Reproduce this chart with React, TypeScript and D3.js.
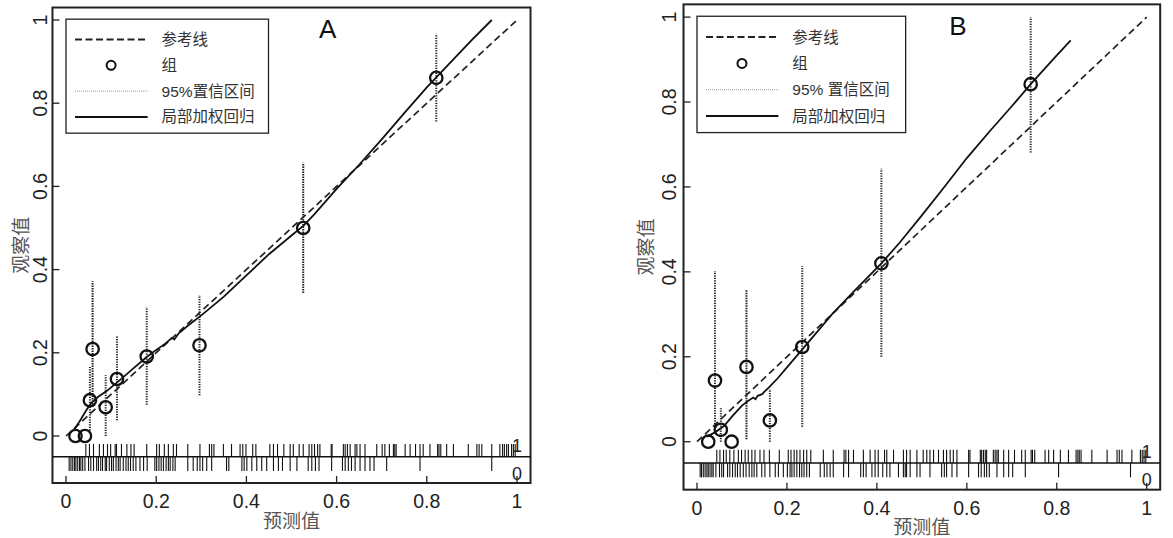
import React from "react";
import * as d3 from "d3";

// ---------- data ----------
const axisTicks = [0, 0.2, 0.4, 0.6, 0.8, 1];
const axisTickLabels = ["0", "0.2", "0.4", "0.6", "0.8", "1"];
const xTitle = "预测值";
const yTitle = "观察值";
const legendLabelsA = ["参考线", "组", "95%置信区间", "局部加权回归"];
const legendLabelsB = ["参考线", "组", "95% 置信区间", "局部加权回归"];

// Panel A groups
const groupPredA = [0.021, 0.042, 0.053, 0.059, 0.088, 0.113, 0.179, 0.296, 0.526, 0.821];
const groupObsA = [0, 0, 0.086, 0.209, 0.069, 0.137, 0.191, 0.218, 0.5, 0.861];
const ciLowA = [null, null, 0.013, 0.07, 0.0, 0.038, 0.075, 0.098, 0.344, 0.756];
const ciHighA = [null, null, 0.166, 0.372, 0.146, 0.24, 0.31, 0.339, 0.657, 0.967];

const loessXA = [0.016, 0.03, 0.045, 0.055, 0.07, 0.09, 0.12, 0.15, 0.179, 0.2, 0.22, 0.235, 0.24, 0.25, 0.27, 0.3, 0.35, 0.4, 0.45, 0.5, 0.526, 0.55, 0.6, 0.65, 0.7, 0.75, 0.8, 0.85, 0.9, 0.944];
const loessYA = [0.012, 0.035, 0.062, 0.078, 0.093, 0.108, 0.135, 0.163, 0.19, 0.207, 0.222, 0.236, 0.232, 0.247, 0.265, 0.29, 0.335, 0.386, 0.437, 0.482, 0.505, 0.532, 0.594, 0.652, 0.713, 0.776, 0.838, 0.895, 0.952, 1.0];

const rugEventsA = [0.044, 0.052, 0.061, 0.074, 0.083, 0.092, 0.099, 0.109, 0.112, 0.123, 0.135, 0.144, 0.151, 0.179, 0.201, 0.207, 0.218, 0.227, 0.238, 0.245, 0.27, 0.297, 0.318, 0.323, 0.328, 0.349, 0.367, 0.386, 0.392, 0.399, 0.414, 0.421, 0.452, 0.46, 0.469, 0.483, 0.497, 0.504, 0.517, 0.526, 0.539, 0.545, 0.551, 0.558, 0.563, 0.588, 0.59, 0.615, 0.619, 0.624, 0.63, 0.641, 0.645, 0.652, 0.663, 0.689, 0.701, 0.707, 0.717, 0.726, 0.729, 0.732, 0.752, 0.763, 0.775, 0.785, 0.792, 0.807, 0.824, 0.827, 0.831, 0.844, 0.859, 0.892, 0.911, 0.916, 0.922, 0.944, 0.962, 0.968, 0.972, 0.977, 0.981, 0.988, 0.992, 0.996];
const rugNonEventsA = [0.007, 0.011, 0.015, 0.019, 0.022, 0.026, 0.03, 0.033, 0.037, 0.042, 0.05, 0.055, 0.061, 0.068, 0.072, 0.077, 0.081, 0.087, 0.09, 0.096, 0.101, 0.105, 0.111, 0.116, 0.12, 0.127, 0.133, 0.138, 0.143, 0.149, 0.155, 0.164, 0.172, 0.18, 0.197, 0.201, 0.206, 0.211, 0.216, 0.222, 0.227, 0.231, 0.237, 0.242, 0.27, 0.282, 0.291, 0.297, 0.303, 0.312, 0.323, 0.356, 0.361, 0.39, 0.395, 0.401, 0.412, 0.423, 0.434, 0.445, 0.46, 0.471, 0.48, 0.497, 0.512, 0.537, 0.545, 0.553, 0.561, 0.589, 0.613, 0.619, 0.626, 0.633, 0.641, 0.652, 0.663, 0.674, 0.683, 0.711, 0.785, 0.944];

// Panel B groups
const groupPredB = [0.025, 0.04, 0.053, 0.077, 0.11, 0.162, 0.234, 0.41, 0.742];
const groupObsB = [0, 0.144, 0.028, 0, 0.176, 0.05, 0.223, 0.42, 0.842];
const ciLowB = [null, 0.03, 0.0, null, 0.006, 0.0, 0.035, 0.2, 0.681];
const ciHighB = [null, 0.402, 0.079, null, 0.358, 0.124, 0.414, 0.643, 1.0];

const loessXB = [0.022, 0.04, 0.06, 0.08, 0.1, 0.115, 0.125, 0.13, 0.135, 0.145, 0.15, 0.16, 0.18, 0.2, 0.238, 0.27, 0.3, 0.35, 0.41, 0.45, 0.5, 0.55, 0.6, 0.65, 0.7, 0.742, 0.8, 0.831];
const loessYB = [0.012, 0.022, 0.037, 0.062, 0.085, 0.097, 0.104, 0.1, 0.108, 0.112, 0.118, 0.128, 0.15, 0.175, 0.222, 0.262, 0.3, 0.355, 0.42, 0.468, 0.533, 0.6, 0.668, 0.73, 0.79, 0.842, 0.91, 0.945];

const rugEventsB = [0.044, 0.051, 0.059, 0.065, 0.073, 0.082, 0.092, 0.099, 0.107, 0.114, 0.122, 0.129, 0.14, 0.149, 0.161, 0.183, 0.203, 0.209, 0.216, 0.222, 0.229, 0.237, 0.244, 0.253, 0.281, 0.303, 0.327, 0.331, 0.337, 0.348, 0.37, 0.385, 0.396, 0.403, 0.417, 0.422, 0.437, 0.459, 0.466, 0.474, 0.489, 0.503, 0.511, 0.518, 0.526, 0.537, 0.548, 0.555, 0.563, 0.57, 0.578, 0.604, 0.607, 0.63, 0.633, 0.637, 0.641, 0.644, 0.659, 0.663, 0.667, 0.67, 0.682, 0.693, 0.706, 0.722, 0.73, 0.743, 0.746, 0.751, 0.774, 0.782, 0.793, 0.808, 0.826, 0.843, 0.847, 0.85, 0.854, 0.878, 0.912, 0.934, 0.939, 0.945, 0.967, 0.986, 0.99, 0.994, 0.998];
const rugNonEventsB = [0.007, 0.01, 0.014, 0.018, 0.022, 0.025, 0.029, 0.033, 0.036, 0.042, 0.05, 0.055, 0.059, 0.068, 0.073, 0.079, 0.085, 0.09, 0.096, 0.103, 0.109, 0.116, 0.122, 0.127, 0.133, 0.144, 0.151, 0.162, 0.174, 0.181, 0.192, 0.201, 0.207, 0.211, 0.216, 0.222, 0.228, 0.233, 0.238, 0.244, 0.25, 0.274, 0.283, 0.289, 0.296, 0.303, 0.326, 0.337, 0.364, 0.37, 0.376, 0.389, 0.396, 0.403, 0.413, 0.422, 0.429, 0.448, 0.459, 0.463, 0.466, 0.474, 0.489, 0.496, 0.518, 0.544, 0.55, 0.555, 0.567, 0.578, 0.604, 0.626, 0.632, 0.639, 0.644, 0.65, 0.667, 0.682, 0.693, 0.702, 0.73, 0.804, 0.964];

// ---------- layout ----------
const W = 1173;
const H = 538;
const FONT = "'Liberation Sans', Arial, 'Noto Sans CJK SC', sans-serif";
const XLIM = [-0.03, 1.03];
const YLIM = [-0.113, 1.03];

type PanelProps = {
  letter: string;
  x0: number; x1: number; y0: number; y1: number;
  yLabelOff: number; yTitleOff: number;
  legendRight: number;
  legendLabels: string[];
  pred: number[]; obs: number[]; lo: (number | null)[]; hi: (number | null)[];
  lx: number[]; ly: number[];
  rug1: number[]; rug0: number[];
};

function Panel(p: PanelProps) {
  const x = d3.scaleLinear().domain([0, 1]).range([p.x0, p.x1]);
  const y = d3.scaleLinear().domain([0, 1]).range([p.y0, p.y1]);
  const bx0 = x(XLIM[0]), bx1 = x(XLIM[1]);
  const by0 = y(YLIM[0]), by1 = y(YLIM[1]);
  const line = d3.line<[number, number]>().x(d => x(d[0])).y(d => y(d[1]));
  const loessPts: [number, number][] = p.lx.map((v, i) => [v, p.ly[i]]);
  const rugY = y(-0.05);
  const rugUp = y(-0.019);
  const rugDown = y(-0.084);
  const legTop = y(1.002), legBot = y(0.728);
  const legL = x(0.0), legR = x(p.legendRight);
  const rowY = [0.953, 0.891, 0.829, 0.767].map(v => y(v));
  const sampX0 = x(0.02), sampX1 = x(0.181), txtX = x(0.212), circX = x(0.1);
  const midY = (by0 + by1) / 2;
  return (
    <g fontFamily={FONT}>
      {/* box */}
      <rect x={bx0} y={by1} width={bx1 - bx0} height={by0 - by1} fill="white" stroke="#222" strokeWidth={2} />
      {/* ticks (inward) */}
      {axisTicks.map((t, i) => (
        <g key={"t" + i}>
          <line x1={x(t)} x2={x(t)} y1={by0} y2={by0 - 7} stroke="#222" strokeWidth={1.3} />
          <text x={x(t)} y={by0 + 25} textAnchor="middle" fontSize={19.5} fill="#222">{axisTickLabels[i]}</text>
          <line x1={bx0} x2={bx0 + 7} y1={y(t)} y2={y(t)} stroke="#222" strokeWidth={1.3} />
          <text transform={`translate(${bx0 - p.yLabelOff},${y(t)}) rotate(-90)`} textAnchor="middle" dominantBaseline="central" fontSize={19.5} fill="#222">{axisTickLabels[i]}</text>
        </g>
      ))}
      <text x={(bx0 + bx1) / 2} y={by0 + 38} textAnchor="middle" dominantBaseline="central" fontSize={19} fill="#555">{xTitle}</text>
      <text transform={`translate(${bx0 - p.yTitleOff},${midY}) rotate(-90)`} textAnchor="middle" dominantBaseline="central" fontSize={19} fill="#555">{yTitle}</text>
      {/* rug */}
      <line x1={bx0} x2={bx1} y1={rugY} y2={rugY} stroke="#111" strokeWidth={1.6} />
      {p.rug1.map((v, i) => (
        <line key={"r1" + i} x1={x(v)} x2={x(v)} y1={rugY} y2={rugUp} stroke="#111" strokeWidth={1.1} />
      ))}
      {p.rug0.map((v, i) => (
        <line key={"r0" + i} x1={x(v)} x2={x(v)} y1={rugY} y2={rugDown} stroke="#111" strokeWidth={1.1} />
      ))}
      <text x={x(1)} y={rugY - 5} textAnchor="middle" fontSize={18} fill="#222">1</text>
      <text x={x(1)} y={rugY + 23} textAnchor="middle" fontSize={18} fill="#222">0</text>
      {/* CI */}
      {p.pred.map((v, i) =>
        p.lo[i] == null ? null : (
          <line key={"ci" + i} x1={x(v)} x2={x(v)} y1={y(p.lo[i] as number)} y2={y(p.hi[i] as number)} stroke="#222" strokeWidth={2} strokeDasharray="1.3,1.2" />
        )
      )}
      {/* reference line */}
      <path d={line([[0, 0], [1, 1]]) || ""} fill="none" stroke="#222" strokeWidth={1.7} strokeDasharray="7,4" />
      {/* loess */}
      <path d={line(loessPts) || ""} fill="none" stroke="#111" strokeWidth={1.8} />
      {/* groups */}
      {p.pred.map((v, i) => (
        <circle key={"g" + i} cx={x(v)} cy={y(p.obs[i])} r={6.2} fill="none" stroke="#111" strokeWidth={2.3} />
      ))}
      {/* letter */}
      <text x={x(0.58)} y={y(0.957)} textAnchor="middle" fontSize={26} fill="#111">{p.letter}</text>
      {/* legend */}
      <rect x={legL} y={legTop} width={legR - legL} height={legBot - legTop} fill="white" stroke="#222" strokeWidth={1.3} />
      <line x1={sampX0} x2={sampX1} y1={rowY[0]} y2={rowY[0]} stroke="#222" strokeWidth={2} strokeDasharray="7,3.5" />
      <circle cx={circX} cy={rowY[1]} r={4.5} fill="none" stroke="#111" strokeWidth={2} />
      <line x1={sampX0} x2={sampX1} y1={rowY[2]} y2={rowY[2]} stroke="#999" strokeWidth={1} strokeDasharray="1,1" />
      <line x1={sampX0} x2={sampX1} y1={rowY[3]} y2={rowY[3]} stroke="#111" strokeWidth={2} />
      {p.legendLabels.map((s, i) => (
        <text key={"l" + i} x={txtX} y={rowY[i]} dominantBaseline="central" fontSize={15.5} fill="#333">{s}</text>
      ))}
    </g>
  );
}

export default function App() {
  return (
    <svg width={W} height={H} style={{ position: "absolute", left: 0, top: 0, background: "white" }}>
      <rect x={0} y={0} width={W} height={H} fill="white" />
      <Panel letter="A" x0={66} x1={517} y0={436} y1={20} yLabelOff={12} yTitleOff={31} legendRight={0.449}
        legendLabels={legendLabelsA} pred={groupPredA} obs={groupObsA} lo={ciLowA} hi={ciHighA}
        lx={loessXA} ly={loessYA} rug1={rugEventsA} rug0={rugNonEventsA} />
      <Panel letter="B" x0={697} x1={1146.7} y0={441.7} y1={17.1} yLabelOff={15} yTitleOff={37} legendRight={0.464}
        legendLabels={legendLabelsB} pred={groupPredB} obs={groupObsB} lo={ciLowB} hi={ciHighB}
        lx={loessXB} ly={loessYB} rug1={rugEventsB} rug0={rugNonEventsB} />
    </svg>
  );
}
